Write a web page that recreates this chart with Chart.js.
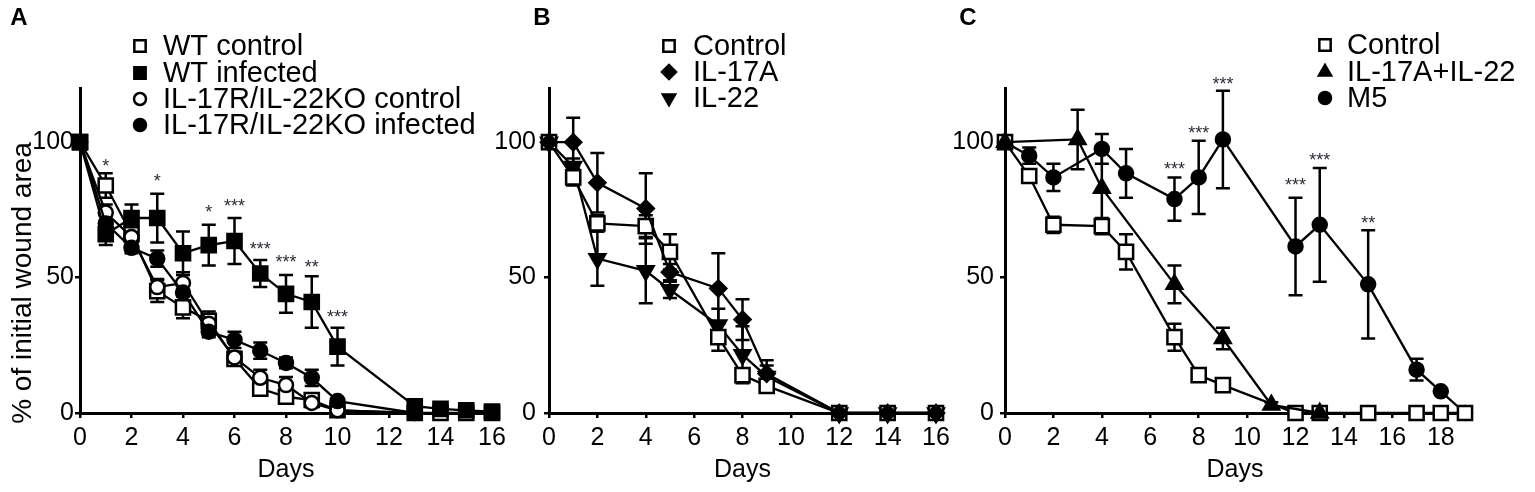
<!DOCTYPE html>
<html>
<head>
<meta charset="utf-8">
<title>Wound closure</title>
<script src="https://cdn.jsdelivr.net/npm/chart.js@4.4.1/dist/chart.umd.min.js"></script>
<style>
  html, body { margin: 0; padding: 0; background: #fff; }
  body { width: 1535px; height: 492px; position: relative; overflow: hidden; }
  .panel { position: absolute; top: 0; height: 492px; }
</style>
</head>
<body>
<div class="panel" style="left:0;width:515px"><canvas id="chartA"></canvas></div>
<div class="panel" style="left:470px;width:490px"><canvas id="chartB"></canvas></div>
<div class="panel" style="left:945px;width:590px"><canvas id="chartC"></canvas></div>

<script>
// ---- Panel A data ----
const aDaysWT = [0, 1, 2, 3, 4, 5, 6, 7, 8, 9, 10, 13, 14, 15, 16];
const aDaysKO = [0, 1, 2, 3, 4, 5, 6, 7, 8, 9, 10, 13];
const aWtControl = [100, 84, 66, 45, 39, 34, 20, 9, 6, 4.8, 1, 0, 0, 0, 0];
const aWtControlSem = [0, 4.5, 3, 4, 4, 3.5, 2, 2, 2, 1.5, 1, 0, 0, 0, 0];
const aWtInfected = [100, 66, 72, 72, 59, 62, 63.5, 51.5, 44, 41, 24.5, 2.5, 1.5, 1, 0.5];
const aWtInfectedSem = [0, 4, 5, 9, 8, 7.5, 8.5, 5, 7, 9.5, 7, 1, 0.5, 0.5, 0];
const aKoControl = [100, 74, 65, 46.5, 48, 33, 20.5, 13, 10.3, 3.7, 1, 0];
const aKoControlSem = [0, 3, 3, 3, 4, 3, 2, 3, 3, 1.5, 1, 0];
const aKoInfected = [100, 70, 61, 57, 44.5, 30, 27, 23, 18.5, 13, 4.4, 0];
const aKoInfectedSem = [0, 3, 2, 3, 3, 2, 3, 3, 2, 3, 1, 0];
const aStarDays = [1, 3, 5, 6, 7, 8, 9, 10];
const aStarText = ['*', '*', '*', '***', '***', '***', '**', '***'];
const aStarY = [92.7, 87, 75.6, 77.9, 62, 57.2, 55.3, 36.9];
const aXTicks = [0, 2, 4, 6, 8, 10, 12, 14, 16];

// ---- Panel B data ----
const bDays = [0, 1, 2, 4, 5, 7, 8, 9, 12, 14, 16];
const bControl = [100, 87, 70, 69, 59.5, 28, 14, 10, 0, 0, 0];
const bControlSem = [0, 3, 3, 4, 6.5, 5, 2, 2, 0, 0, 0];
const bIl17a = [100, 100, 85, 75.5, 52, 46, 34.5, 14.5, 0, 0, 0];
const bIl17aSem = [0, 9, 11, 13, 3, 13, 7.5, 5, 0, 0, 0];
const bIl22 = [100, 91, 57, 52.5, 45.5, 32.5, 21.5, 13.5, 0, 0, 0];
const bIl22Sem = [0, 3, 10, 12, 3, 6, 10.5, 4, 0, 0, 0];
const bXTicks = [0, 2, 4, 6, 8, 10, 12, 14, 16];

// ---- Panel C data ----
const cDays = [0, 1, 2, 4, 5, 7, 8, 9, 12, 13, 15, 17, 18, 19];
const cDaysCombo = [0, 3, 4, 7, 9, 11, 13];
const cControl = [100, 87.5, 69.5, 69, 59.5, 28, 14, 10.3, 0, 0, 0, 0, 0, 0];
const cControlSem = [0, 2, 3, 3, 6.5, 5, 1, 1, 0, 0, 0, 0, 0, 0];
const cCombo = [100, 101, 83, 47.5, 27.5, 3, 0];
const cComboSem = [0, 11, 14, 7, 4, 1, 0];
const cM5 = [100, 95, 87, 97.5, 88.5, 79, 87, 101, 61.5, 69.5, 47.5, 16, 8, 0];
const cM5Sem = [0, 3, 5, 5.5, 9, 8, 13.5, 18, 18, 21, 20, 4, 0, 0];
const cStarDays = [7, 8, 9, 12, 13, 15];
const cStarText = ['***', '***', '***', '***', '***', '**'];
const cStarY = [91.5, 105, 123, 85.5, 95, 71.5];
const cXTicks = [0, 2, 4, 6, 8, 10, 12, 14, 16, 18];

const yTicks = [0, 50, 100];

const FONT = '"Liberation Sans", Arial, Helvetica, sans-serif';
const BLACK = '#000';

function pts(days, vals) {
  return days.map(function (d, i) { return { x: d, y: vals[i] }; });
}

function series(label, days, vals, sem, style, radius, filled, extra) {
  return Object.assign({
    label: label,
    data: pts(days, vals),
    sem: sem,
    borderColor: BLACK,
    borderWidth: 2.3,
    tension: 0,
    fill: false,
    pointStyle: style,
    pointRadius: radius,
    pointHoverRadius: radius,
    pointBackgroundColor: filled ? BLACK : '#fff',
    pointBorderColor: BLACK,
    pointBorderWidth: 2.5,
    clip: false
  }, extra || {});
}

function drawMarker(ctx, ds, x, y, r) {
  ctx.save();
  ctx.fillStyle = ds.pointBackgroundColor;
  ctx.strokeStyle = ds.pointBorderColor;
  ctx.lineWidth = ds.pointBorderWidth;
  Chart.helpers.drawPoint(ctx, {
    pointStyle: ds.pointStyle, radius: r, rotation: ds.pointRotation || 0, borderWidth: ds.pointBorderWidth
  }, x, y);
  ctx.restore();
}

// error bars, stars, legend, panel letter, y title
function decor(cfg) {
  return {
    id: 'decor',
    beforeDatasetsDraw(chart) {
      const ctx = chart.ctx, xs = chart.scales.x, ys = chart.scales.y;
      ctx.save();
      ctx.strokeStyle = BLACK;
      ctx.lineWidth = 2.5;
      chart.data.datasets.forEach(function (ds) {
        ds.data.forEach(function (p, i) {
          const s = ds.sem[i];
          if (!s) return;
          const x = xs.getPixelForValue(p.x);
          const t = ys.getPixelForValue(p.y + s);
          const b = ys.getPixelForValue(p.y - s);
          ctx.beginPath();
          ctx.moveTo(x, t); ctx.lineTo(x, b);
          ctx.moveTo(x - 7, t); ctx.lineTo(x + 7, t);
          ctx.moveTo(x - 7, b); ctx.lineTo(x + 7, b);
          ctx.stroke();
        });
      });
      ctx.restore();
    },
    afterDatasetsDraw(chart) {
      const ctx = chart.ctx, xs = chart.scales.x, ys = chart.scales.y;
      ctx.save();
      // significance stars
      if (cfg.stars) {
        ctx.fillStyle = '#2e2a36';
        ctx.font = '18px ' + FONT;
        ctx.textAlign = 'center';
        ctx.textBaseline = 'alphabetic';
        cfg.stars.days.forEach(function (d, i) {
          ctx.fillText(cfg.stars.text[i], xs.getPixelForValue(d), ys.getPixelForValue(cfg.stars.y[i]) + 10);
        });
      }
      // legend
      ctx.fillStyle = BLACK;
      ctx.font = '29px ' + FONT;
      ctx.textAlign = 'left';
      ctx.textBaseline = 'middle';
      chart.data.datasets.forEach(function (ds, i) {
        const row = cfg.legend.order[i];
        const y = cfg.legend.rows[row];
        drawMarker(ctx, ds, cfg.legend.x, y, ds.legendRadius);
        ctx.fillStyle = BLACK;
        ctx.fillText(ds.label, cfg.legend.textX, y + 1);
      });
      // panel letter
      ctx.font = 'bold 24px ' + FONT;
      ctx.textAlign = 'center';
      ctx.fillText(cfg.letter.text, cfg.letter.x, cfg.letter.y);
      // y title
      if (cfg.yTitle) {
        ctx.translate(cfg.yTitle.x, cfg.yTitle.y);
        ctx.rotate(-Math.PI / 2);
        ctx.font = '28px ' + FONT;
        ctx.fillText(cfg.yTitle.text, 0, 0);
      }
      ctx.restore();
    }
  };
}

function makePanel(id, datasets, xMax, xTicks, box, cfg) {
  const axisFont = { size: 25, family: FONT };
  new Chart(document.getElementById(id).getContext('2d'), {
    type: 'line',
    data: { datasets: datasets },
    options: {
      responsive: true,
      maintainAspectRatio: false,
      animation: false,
      events: [],
      layout: { padding: { left: 0, top: box.top, right: box.right, bottom: 0 } },
      scales: {
        x: {
          type: 'linear', min: 0, max: xMax,
          afterBuildTicks: function (s) { s.ticks = xTicks.map(function (v) { return { value: v }; }); },
          afterFit: function (s) { s.height = box.xHeight; },
          ticks: { font: axisFont, color: BLACK, padding: 5, maxRotation: 0, autoSkip: false },
          grid: { drawOnChartArea: false, tickLength: 5, color: BLACK, lineWidth: 2.5 },
          border: { color: BLACK, width: 3 },
          title: { display: true, text: 'Days', font: axisFont, color: BLACK, padding: { top: 0, bottom: 7 } }
        },
        y: {
          min: 0, max: 120,
          afterBuildTicks: function (s) { s.ticks = yTicks.map(function (v) { return { value: v }; }); },
          afterFit: function (s) { s.width = box.yWidth; },
          ticks: { font: axisFont, color: BLACK, padding: box.yPad },
          grid: { drawOnChartArea: false, tickLength: 5, color: BLACK, lineWidth: 2.5 },
          border: { color: BLACK, width: 3 }
        }
      },
      plugins: { legend: { display: false }, tooltip: { enabled: false } }
    },
    plugins: [decor(cfg)]
  });
}

document.addEventListener('DOMContentLoaded', function () {

  // ---- Panel A ----
  makePanel('chartA', [
    series('WT infected', aDaysWT, aWtInfected, aWtInfectedSem, 'rect', 10, true, { order: 0, legendRadius: 8 }),
    series('WT control', aDaysWT, aWtControl, aWtControlSem, 'rect', 10, false, { order: 3, legendRadius: 8 }),
    series('IL-17R/IL-22KO infected', aDaysKO, aKoInfected, aKoInfectedSem, 'circle', 7, true, { order: 1, legendRadius: 6 }),
    series('IL-17R/IL-22KO control', aDaysKO, aKoControl, aKoControlSem, 'circle', 7, false, { order: 2, legendRadius: 6 })
  ], 16, aXTicks, { top: 88, right: 23, xHeight: 79, yWidth: 80, yPad: 1 }, {
    legend: { x: 140, textX: 163, rows: [46, 73, 99, 125], order: [1, 0, 3, 2] },
    letter: { text: 'A', x: 19, y: 18 },
    yTitle: { text: '% of initial wound area', x: 23, y: 283 },
    stars: { days: aStarDays, text: aStarText, y: aStarY }
  });

  // ---- Panel B ----
  makePanel('chartB', [
    series('Control', bDays, bControl, bControlSem, 'rect', 10, false, { order: 1, legendRadius: 8 }),
    series('IL-17A', bDays, bIl17a, bIl17aSem, 'rectRot', 8, true, { order: 0, legendRadius: 7 }),
    series('IL-22', bDays, bIl22, bIl22Sem, 'triangle', 9, true, { order: 2, pointRotation: 180, legendRadius: 7 })
  ], 16, bXTicks, { top: 88, right: 24, xHeight: 79, yWidth: 79, yPad: 8 }, {
    legend: { x: 199, textX: 223, rows: [46, 72, 98], order: [0, 1, 2] },
    letter: { text: 'B', x: 72, y: 18 }
  });

  // ---- Panel C ----
  makePanel('chartC', [
    series('Control', cDays, cControl, cControlSem, 'rect', 10, false, { order: 1, legendRadius: 8 }),
    series('IL-17A+IL-22', cDaysCombo, cCombo, cComboSem, 'triangle', 9, true, { order: 0, legendRadius: 7 }),
    series('M5', cDays, cM5, cM5Sem, 'circle', 7, true, { order: 2, legendRadius: 6 })
  ], 19, cXTicks, { top: 88, right: 70, xHeight: 79, yWidth: 60, yPad: 6 }, {
    legend: { x: 380, textX: 402, rows: [45, 72, 98], order: [0, 1, 2] },
    letter: { text: 'C', x: 23, y: 18 },
    stars: { days: cStarDays, text: cStarText, y: cStarY }
  });

});
</script>
</body>
</html>
